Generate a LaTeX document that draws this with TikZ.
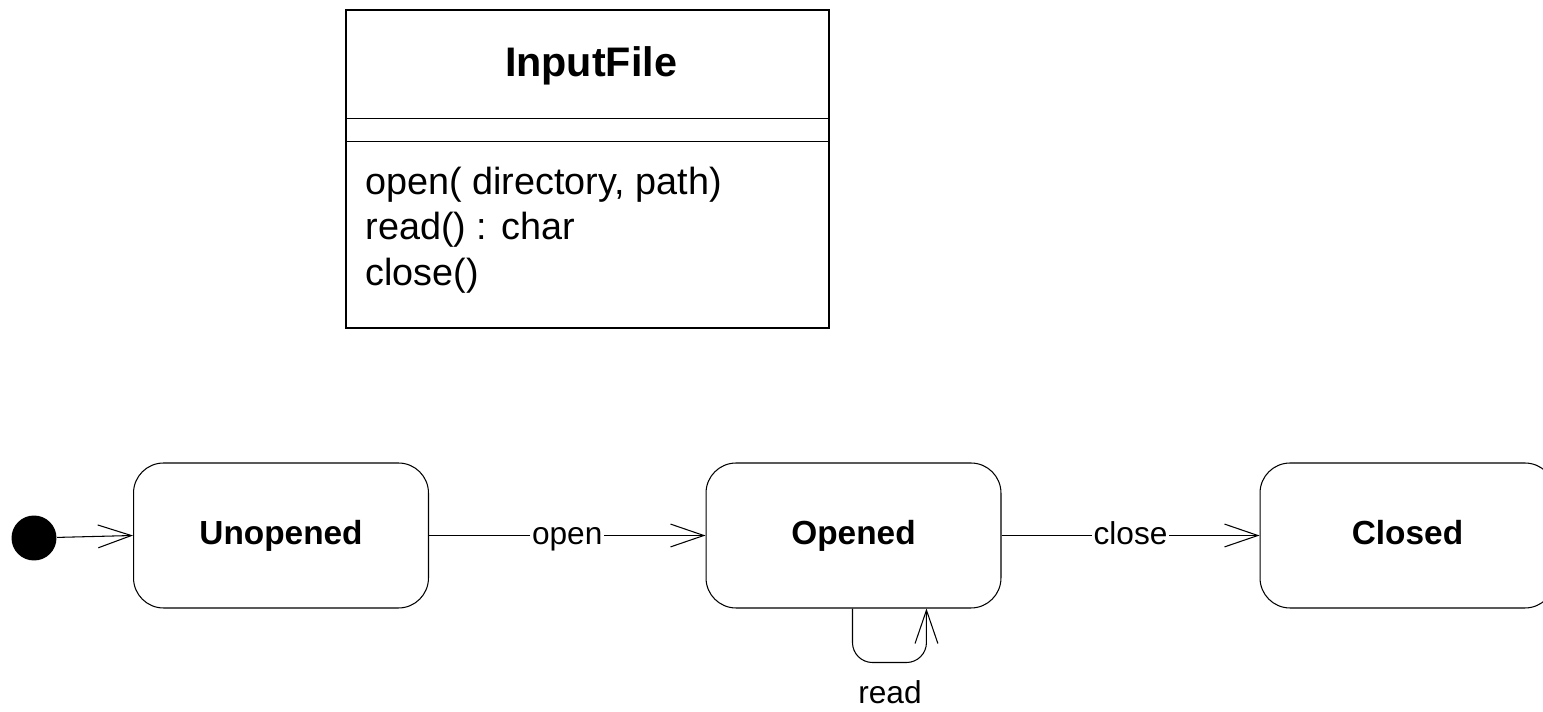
\documentclass[tikz,border=0pt]{standalone}
\usepackage{fontspec}
\setmainfont{Liberation Sans}
\usetikzlibrary{arrows.meta}
\begin{document}
\begin{tikzpicture}[x=0.02cm, y=-0.02cm, line width=0.6pt,
  statebox/.style={draw, rectangle, rounded corners=0.6cm,
    minimum width=5.9cm, minimum height=2.9cm,
    text height=14pt, text depth=3.2pt,
    font=\fontsize{19}{22}\selectfont\bfseries},
  trans/.style={-{Straight Barb[length=19pt,width=13pt]}},
  lbl/.style={fill=white, inner sep=1pt, font=\fontsize{18}{21}\selectfont},
  edgelbl/.style={lbl, anchor=base, yshift=-0.19cm},
  classbox/.style={draw, rectangle, line width=0.8pt,
    minimum width=9.66cm, minimum height=6.36cm, inner sep=0pt}]
\path[use as bounding box, fill=white] (0,0) rectangle (1543,712);
\clip (0,0) rectangle (1543,712);

% class box with its three compartments
\node[classbox] (cls) at (587.5,169) {};
\draw[line width=0.8pt] ([yshift=-2.18cm]cls.north west) coordinate (s1l) -- (s1l -| cls.east);
\draw[line width=0.8pt] ([yshift=-2.64cm]cls.north west) coordinate (s2l) -- (s2l -| cls.east);
\node[anchor=base, font=\fontsize{23.5}{26}\selectfont\bfseries] (cname) at (591,77) {InputFile};
\node[anchor=base west, inner sep=0pt, font=\fontsize{21.5}{25.5}\selectfont] (m1) at (365,195) {open( directory, path)};
\node[anchor=base west, inner sep=0pt, font=\fontsize{21.5}{25.5}\selectfont] (m2) at (365,240) {read() : char};
\node[anchor=base west, inner sep=0pt, font=\fontsize{21.5}{25.5}\selectfont] (m3) at (365,286) {close()};

% state machine
\node[circle, fill=black, minimum size=0.9cm, inner sep=0pt] (init) at (34,538) {};
\node[statebox] (unop) at (281,535.5) {Unopened};
\node[statebox] (op) at (853.5,535.5) {Opened};
\node[statebox] (cl) at (1407.5,535.5) {Closed};

\draw[trans] (init) -- (unop.west);
\draw[trans] (unop.east) -- node[edgelbl] (lopen) {open} (op.west);
\draw[trans] (op.east) -- node[edgelbl] (lclose) {close} (cl.west);

% self transition on Opened
\coordinate (ls) at ([xshift=2.94cm]op.south west);
\coordinate (le) at ([xshift=4.42cm]op.south west);
\draw[trans, rounded corners=0.4cm] (ls) -- ++(0,54) -| (le);
\node[anchor=base, lbl] (lread) at (890,704) {read};
\end{tikzpicture}
\end{document}
